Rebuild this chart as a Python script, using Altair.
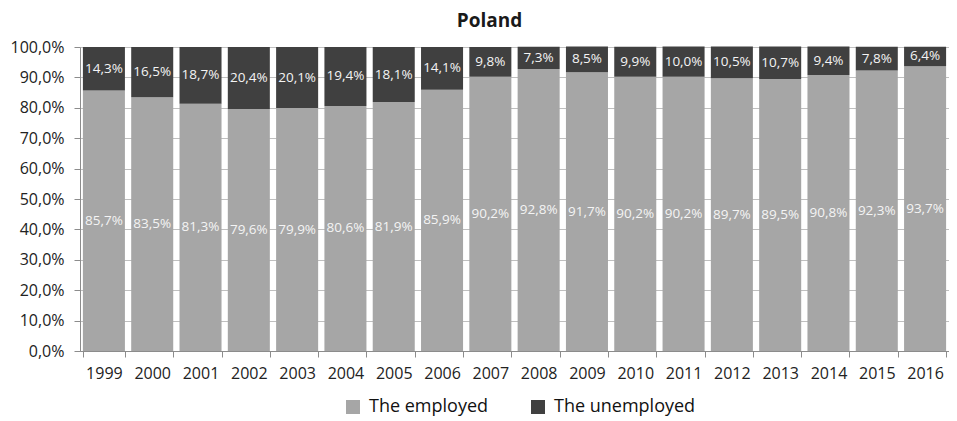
import altair as alt
import pandas as pd

years = ["1999", "2000", "2001", "2002", "2003", "2004", "2005", "2006", "2007",
         "2008", "2009", "2010", "2011", "2012", "2013", "2014", "2015", "2016"]
employed = [85.7, 83.5, 81.3, 79.6, 79.9, 80.6, 81.9, 85.9, 90.2,
            92.8, 91.7, 90.2, 90.2, 89.7, 89.5, 90.8, 92.3, 93.7]
unemployed = [14.3, 16.5, 18.7, 20.4, 20.1, 19.4, 18.1, 14.1, 9.8,
              7.3, 8.5, 9.9, 10.0, 10.5, 10.7, 9.4, 7.8, 6.4]
series = ["The employed", "The unemployed"]
colors = ["#a6a6a6", "#404040"]
y_ticks = [0, 10, 20, 30, 40, 50, 60, 70, 80, 90, 100]

rows = []
for i, y in enumerate(years):
    rows.append({"year": y, "series": series[0], "value": employed[i], "ord": 0})
    rows.append({"year": y, "series": series[1], "value": unemployed[i], "ord": 1})
df = pd.DataFrame(rows)

FONT = "Open Sans"

x_axis = alt.Axis(
    title=None, labelAngle=0, labelFontSize=16, labelColor="#222222",
    labelFont=FONT, tickBand="extent", tickSize=6, tickColor="#8c8c8c",
    domainColor="#8c8c8c", labelPadding=8, grid=False, labelOverlap=False,
)
y_axis = alt.Axis(
    title=None, values=y_ticks, labelFontSize=16, labelColor="#222222",
    labelFont=FONT, tickSize=6, tickColor="#8c8c8c", domainColor="#8c8c8c",
    gridColor="#bfbfbf", grid=True, labelPadding=10, labelOverlap=False,
    labelExpr="replace(format(datum.value, '.1f'), '.', ',') + '%'",
)
x_scale = alt.Scale(paddingInner=0.13, paddingOuter=0.06)
y_scale = alt.Scale(domain=[0, 100], nice=False)

base = alt.Chart(df).transform_stack(
    stack="value", groupby=["year"], as_=["v0", "v1"],
    sort=[alt.SortField("ord", order="ascending")],
).transform_calculate(
    mid="(datum.v0 + datum.v1) / 2",
    lab="replace(format(datum.value, '.1f'), '.', ',') + '%'",
)

bars = base.mark_bar().encode(
    x=alt.X("year:N", sort=years, scale=x_scale, axis=x_axis),
    y=alt.Y("v0:Q", scale=y_scale, axis=y_axis),
    y2="v1:Q",
    color=alt.Color(
        "series:N",
        scale=alt.Scale(domain=series, range=colors),
        legend=alt.Legend(
            title=None, orient="none", direction="horizontal",
            legendX=264, legendY=351, symbolType="square", symbolSize=196,
            symbolStrokeWidth=0, labelFontSize=18, labelFont=FONT,
            labelColor="#111111", columnPadding=40, labelOffset=7,
        ),
    ),
)

labels = base.mark_text(
    font=FONT, fontSize=13.5, color="#f4f4f4", baseline="middle", align="center",
).encode(
    x=alt.X("year:N", sort=years, scale=x_scale, axis=x_axis),
    y=alt.Y("mid:Q", scale=y_scale, axis=y_axis),
    text="lab:N",
)

chart = alt.layer(bars, labels).properties(
    width=869,
    height=304,
    title=alt.TitleParams(
        "Poland", fontSize=19, font=FONT, fontWeight="bold", color="#1a1a1a",
        anchor="middle", dx=-25, offset=8,
    ),
    autosize=alt.AutoSizeParams(type="none"),
    padding={"left": 72, "top": 39, "right": 0, "bottom": 67},
).configure_view(strokeWidth=0).configure(background="white")

chart.save("out.html", embed_options={"renderer": "svg", "actions": False})
